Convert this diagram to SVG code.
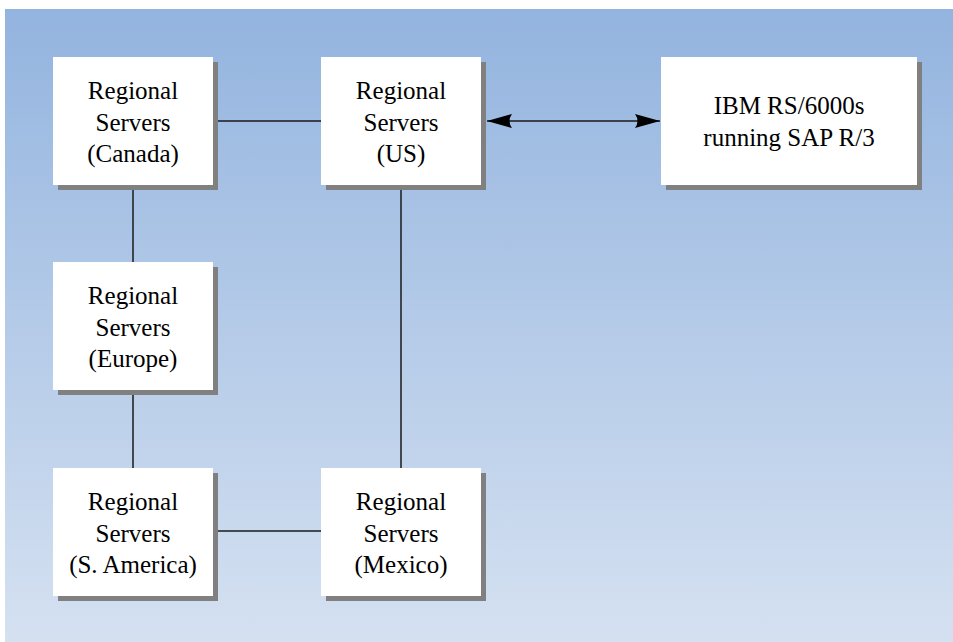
<svg xmlns="http://www.w3.org/2000/svg" width="953" height="642" viewBox="0 0 953 642">
<defs>
<linearGradient id="bg" x1="0" y1="0" x2="0" y2="1">
<stop offset="0" stop-color="#93b4df"/>
<stop offset="1" stop-color="#d5e1f1"/>
</linearGradient>
<marker id="ah" viewBox="0 0 25 14" refX="25" refY="7" markerWidth="25" markerHeight="14" markerUnits="userSpaceOnUse" orient="auto-start-reverse">
<path d="M0,0 L25,7 L0,14 Q5,7 0,0 Z" fill="#000"/>
</marker>
<style>
.box{fill:#fff}
.sh{fill:#808080}
.t{font-family:"Liberation Serif","Times New Roman",serif;font-size:25px;fill:#000;text-anchor:middle}
.c{stroke:#1a1a1a;stroke-width:1.5;fill:none}
</style>
</defs>
<rect x="0" y="0" width="953" height="642" fill="#fff"/>
<rect x="5" y="9" width="948" height="633" fill="url(#bg)"/>
<g id="connectors">
<line class="c" x1="218" y1="121" x2="321" y2="121"/>
<line class="c" x1="133" y1="190" x2="133" y2="262"/>
<line class="c" x1="133" y1="395" x2="133" y2="468"/>
<line class="c" x1="401" y1="190" x2="401" y2="468"/>
<line class="c" x1="218" y1="531" x2="321" y2="531"/>
<line class="c" x1="487" y1="121" x2="660" y2="121" marker-start="url(#ah)" marker-end="url(#ah)"/>
</g>
<g id="canada">
<rect class="sh" x="58" y="62" width="160" height="128"/>
<rect class="box" x="53" y="57" width="160" height="128"/>
<text class="t" x="133" y="99">Regional</text>
<text class="t" x="133" y="131">Servers</text>
<text class="t" x="133" y="162">(Canada)</text>
</g>
<g id="us">
<rect class="sh" x="326" y="62" width="160" height="128"/>
<rect class="box" x="321" y="57" width="160" height="128"/>
<text class="t" x="401" y="99">Regional</text>
<text class="t" x="401" y="131">Servers</text>
<text class="t" x="401" y="162">(US)</text>
</g>
<g id="ibm">
<rect class="sh" x="666" y="62" width="256" height="128"/>
<rect class="box" x="661" y="57" width="256" height="128"/>
<text class="t" x="789" y="114">IBM RS/6000s</text>
<text class="t" x="789" y="146">running SAP R/3</text>
</g>
<g id="europe">
<rect class="sh" x="58" y="267" width="160" height="128"/>
<rect class="box" x="53" y="262" width="160" height="128"/>
<text class="t" x="133" y="304">Regional</text>
<text class="t" x="133" y="336">Servers</text>
<text class="t" x="133" y="367">(Europe)</text>
</g>
<g id="samerica">
<rect class="sh" x="58" y="473" width="160" height="128"/>
<rect class="box" x="53" y="468" width="160" height="128"/>
<text class="t" x="133" y="510">Regional</text>
<text class="t" x="133" y="542">Servers</text>
<text class="t" x="133" y="573">(S. America)</text>
</g>
<g id="mexico">
<rect class="sh" x="326" y="473" width="160" height="128"/>
<rect class="box" x="321" y="468" width="160" height="128"/>
<text class="t" x="401" y="510">Regional</text>
<text class="t" x="401" y="542">Servers</text>
<text class="t" x="401" y="573">(Mexico)</text>
</g>
</svg>
